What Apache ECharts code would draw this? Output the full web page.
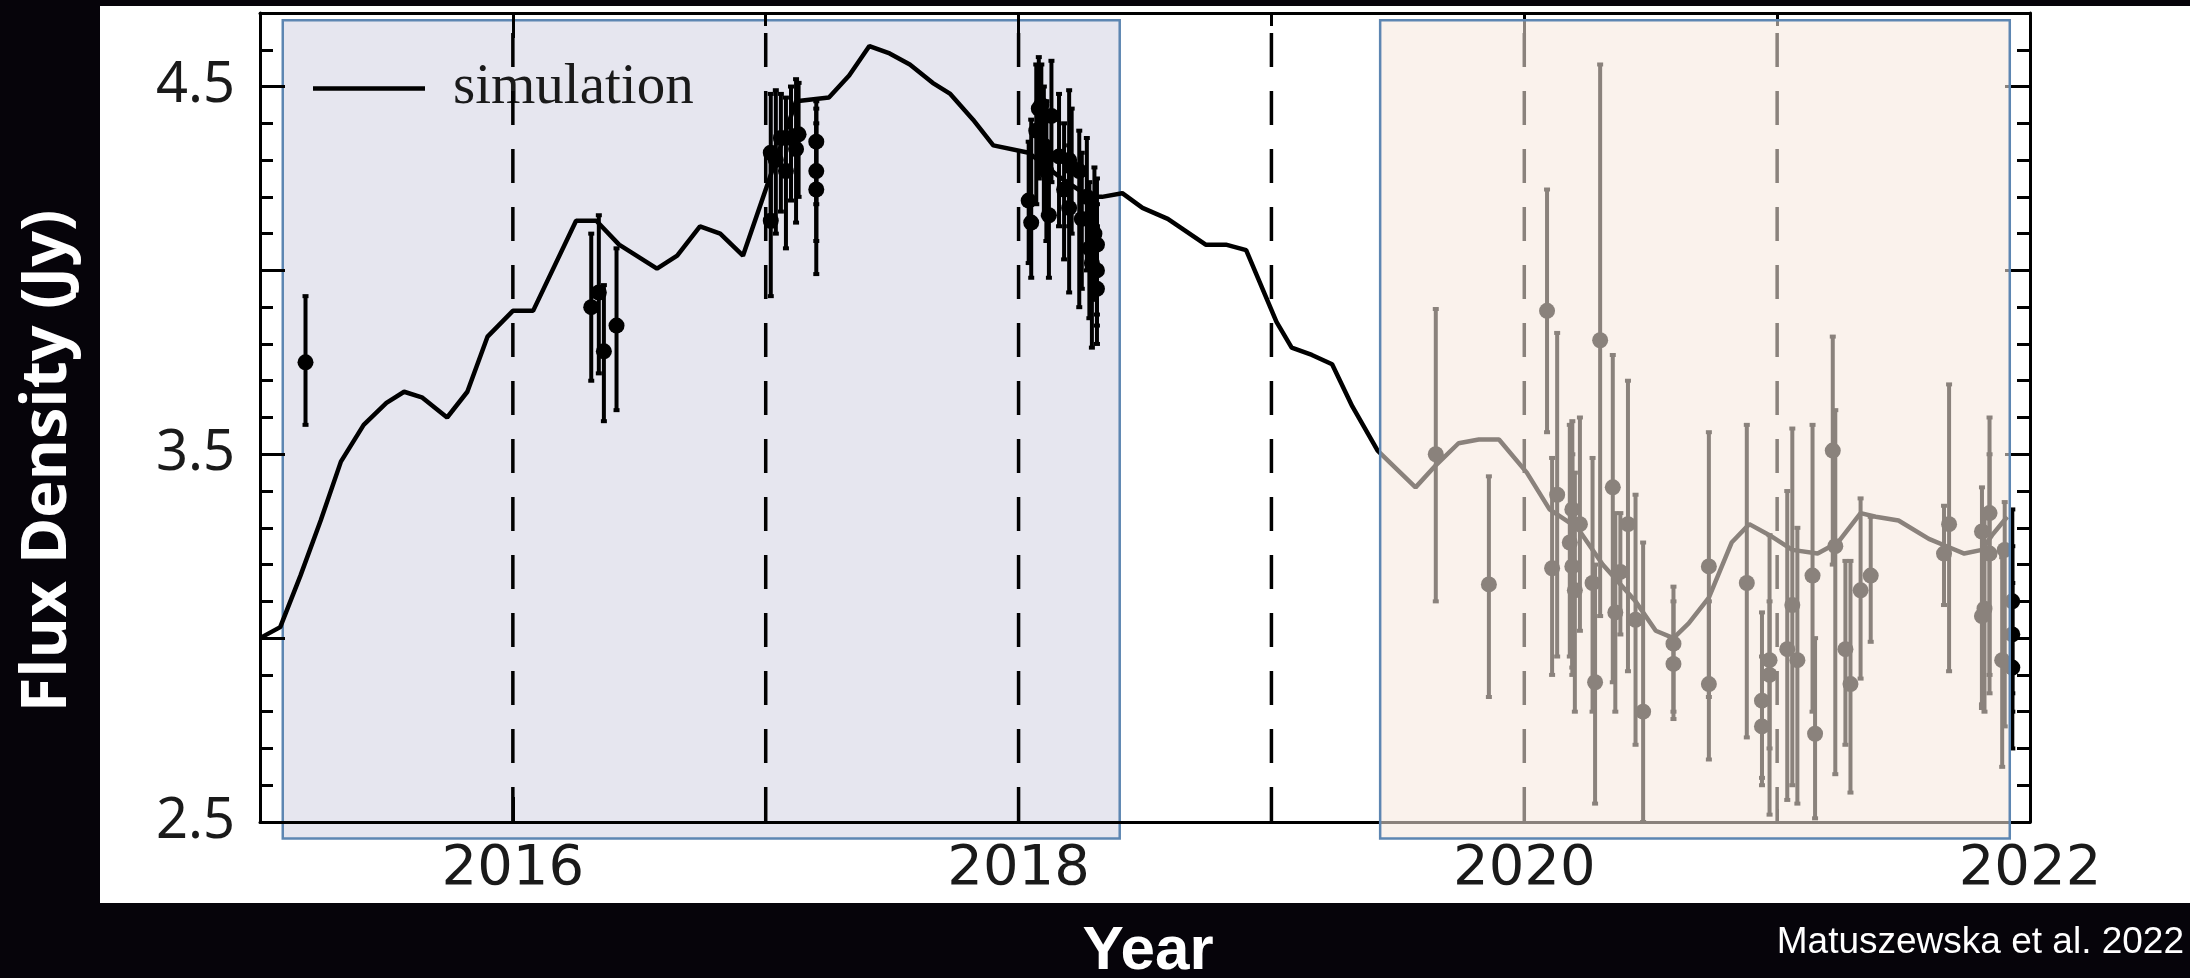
<!DOCTYPE html>
<html>
<head>
<meta charset="utf-8">
<title>Flux density light curve</title>
<script src="https://cdn.jsdelivr.net/npm/echarts@6/dist/echarts.min.js"></script>
<style>
  html, body { margin: 0; padding: 0; background: #06040a; }
  #chart { width: 2190px; height: 978px; }
</style>
</head>
<body>
<div id="chart"></div>
<script>
// Axis ranges and tick positions
const YEAR_RANGE = [2015, 2022];
const FLUX_RANGE = [2.5, 4.7];
const YEAR_TICKS_MAJOR = [2016, 2018, 2020, 2022];
const YEAR_TICKS_MINOR = [2017, 2019, 2021];
const YEAR_LABELS = [2016, 2018, 2020, 2022];
const FLUX_TICKS_MAJOR = [2.5, 3.0, 3.5, 4.0, 4.5];
const FLUX_TICKS_MINOR = [2.6, 2.7, 2.8, 2.9, 3.1, 3.2, 3.3, 3.4, 3.6, 3.7, 3.8, 3.9, 4.1, 4.2, 4.3, 4.4, 4.6];
const FLUX_LABELS = [2.5, 3.5, 4.5];

// Yearly reference epochs (dashed verticals)
const EPOCHS = [2016, 2017, 2018, 2019, 2020, 2021];

// Observing campaigns: [start year, end year, flux low, flux high]
const CAMPAIGN_EARLY = [2015.09, 2018.40, 2.455, 4.68];
const CAMPAIGN_LATE = [2019.43, 2021.92, 2.455, 4.68];

// Simulated light curve: [year, flux density (Jy)]
const SIMULATION = [
  [2015.00, 3.00], [2015.08, 3.03], [2015.16, 3.17], [2015.24, 3.32], [2015.32, 3.48],
  [2015.41, 3.58], [2015.50, 3.64], [2015.57, 3.67], [2015.64, 3.655], [2015.74, 3.60],
  [2015.82, 3.67], [2015.90, 3.82], [2016.00, 3.89], [2016.08, 3.89], [2016.25, 4.135],
  [2016.33, 4.135], [2016.42, 4.07], [2016.57, 4.005], [2016.65, 4.04], [2016.74, 4.12],
  [2016.82, 4.10], [2016.91, 4.04], [2017.12, 4.46], [2017.25, 4.47], [2017.33, 4.53],
  [2017.41, 4.61], [2017.49, 4.59], [2017.57, 4.56], [2017.66, 4.51], [2017.73, 4.48],
  [2017.82, 4.41], [2017.90, 4.34], [2018.04, 4.32], [2018.17, 4.25], [2018.28, 4.20],
  [2018.33, 4.20], [2018.41, 4.21], [2018.49, 4.17], [2018.59, 4.14], [2018.74, 4.07],
  [2018.82, 4.07], [2018.90, 4.055], [2019.02, 3.86], [2019.08, 3.79], [2019.16, 3.77],
  [2019.24, 3.745], [2019.32, 3.63], [2019.42, 3.51], [2019.57, 3.41], [2019.65, 3.47],
  [2019.74, 3.53], [2019.82, 3.54], [2019.90, 3.54], [2020.01, 3.45], [2020.10, 3.35],
  [2020.21, 3.30], [2020.31, 3.20], [2020.44, 3.10], [2020.52, 3.02], [2020.59, 3.00],
  [2020.65, 3.04], [2020.73, 3.11], [2020.82, 3.26], [2020.89, 3.31], [2020.97, 3.28],
  [2021.06, 3.24], [2021.16, 3.23], [2021.24, 3.26], [2021.33, 3.34], [2021.39, 3.33],
  [2021.48, 3.32], [2021.60, 3.27], [2021.67, 3.25], [2021.74, 3.23], [2021.81, 3.24],
  [2021.85, 3.28], [2021.91, 3.33]
];

// Measurements: [year, flux, lower bound, upper bound]
const OBS_2015_2016 = [
  [2015.18, 3.75, 3.58, 3.93],
  [2016.31, 3.90, 3.70, 4.10],
  [2016.34, 3.94, 3.72, 4.15],
  [2016.36, 3.78, 3.59, 3.96],
  [2016.41, 3.85, 3.62, 4.06]
];
const OBS_2017 = [
  [2017.02, 4.32, 4.12, 4.48], [2017.02, 4.135, 3.93, 4.33], [2017.04, 4.30, 4.10, 4.49],
  [2017.06, 4.36, 4.16, 4.48], [2017.08, 4.27, 4.06, 4.47], [2017.10, 4.36, 4.19, 4.50],
  [2017.12, 4.33, 4.13, 4.52], [2017.13, 4.37, 4.20, 4.51], [2017.20, 4.35, 4.18, 4.46],
  [2017.20, 4.27, 4.08, 4.44], [2017.20, 4.22, 3.99, 4.40]
];
const OBS_2018 = [
  [2018.04, 4.19, 4.02, 4.35], [2018.05, 4.13, 3.98, 4.41], [2018.07, 4.38, 4.18, 4.56],
  [2018.08, 4.44, 4.25, 4.58], [2018.09, 4.45, 4.28, 4.56], [2018.10, 4.34, 4.15, 4.50],
  [2018.11, 4.27, 4.08, 4.46], [2018.12, 4.15, 3.98, 4.33], [2018.13, 4.42, 4.24, 4.57],
  [2018.16, 4.31, 4.12, 4.48], [2018.18, 4.22, 4.03, 4.40], [2018.20, 4.17, 3.94, 4.34],
  [2018.20, 4.30, 4.12, 4.49], [2018.21, 4.28, 4.10, 4.44], [2018.24, 4.27, 3.90, 4.38],
  [2018.25, 4.14, 3.95, 4.32], [2018.27, 4.20, 4.00, 4.36], [2018.28, 4.06, 3.87, 4.24],
  [2018.29, 4.02, 3.79, 4.20], [2018.30, 4.10, 3.92, 4.28], [2018.31, 4.07, 3.88, 4.25],
  [2018.31, 4.00, 3.85, 4.18], [2018.31, 3.95, 3.80, 4.12]
];
const OBS_2019_2021 = [
  [2019.65, 3.50, 3.10, 3.895], [2019.86, 3.146, 2.84, 3.44], [2020.09, 3.89, 3.56, 4.22],
  [2020.11, 3.19, 2.90, 3.49], [2020.13, 3.39, 2.95, 3.83], [2020.18, 3.26, 2.95, 3.58],
  [2020.19, 3.35, 2.92, 3.59], [2020.19, 3.195, 2.90, 3.50], [2020.20, 3.13, 2.80, 3.45],
  [2020.22, 3.31, 3.02, 3.60], [2020.27, 3.15, 2.80, 3.49], [2020.28, 2.88, 2.55, 3.20],
  [2020.30, 3.81, 3.06, 4.56], [2020.35, 3.41, 2.88, 3.77], [2020.36, 3.07, 2.80, 3.34],
  [2020.38, 3.18, 3.01, 3.34], [2020.41, 3.31, 2.91, 3.70], [2020.44, 3.05, 2.71, 3.39],
  [2020.47, 2.80, 2.50, 3.26], [2020.59, 2.985, 2.80, 3.14], [2020.59, 2.93, 2.78, 3.10],
  [2020.73, 3.195, 2.84, 3.56], [2020.73, 2.875, 2.67, 3.10], [2020.88, 3.15, 2.73, 3.58],
  [2020.94, 2.83, 2.60, 3.07], [2020.94, 2.76, 2.62, 2.95], [2020.97, 2.94, 2.52, 3.28],
  [2020.97, 2.90, 2.70, 3.10], [2021.04, 2.97, 2.56, 3.40], [2021.06, 3.09, 2.60, 3.57],
  [2021.08, 2.94, 2.55, 3.30], [2021.14, 3.17, 2.80, 3.58], [2021.15, 2.74, 2.51, 3.00],
  [2021.22, 3.51, 3.20, 3.82], [2021.23, 3.25, 2.63, 3.62], [2021.27, 2.97, 2.71, 3.21],
  [2021.29, 2.875, 2.58, 3.21], [2021.33, 3.13, 2.89, 3.38], [2021.37, 3.17, 2.99, 3.33],
  [2021.66, 3.23, 3.09, 3.36], [2021.68, 3.31, 2.91, 3.69], [2021.81, 3.29, 2.81, 3.41],
  [2021.84, 3.34, 2.85, 3.60], [2021.84, 3.23, 2.90, 3.50], [2021.82, 3.08, 2.80, 3.35],
  [2021.81, 3.06, 2.82, 3.30], [2021.89, 2.94, 2.65, 3.22], [2021.90, 3.24, 2.76, 3.37],
  [2021.93, 3.10, 2.85, 3.35], [2021.93, 3.01, 2.80, 3.25], [2021.93, 2.92, 2.70, 3.15]
];

const OBSERVATIONS = [].concat(OBS_2015_2016, OBS_2017, OBS_2018, OBS_2019_2021);

const INK = '#000000';
const TICK_INK = '#1a1a1a';
const FRAME_BLUE = '#5d86b2';

function campaignBox(fill, z, name) {
  return {
    name: name,
    type: 'custom',
    z: z,
    clip: false,
    silent: true,
    xAxisIndex: 0,
    yAxisIndex: 0,
    data: [name === 'early' ? CAMPAIGN_EARLY : CAMPAIGN_LATE],
    encode: { x: [0, 1], y: [2, 3] },
    renderItem: function (params, api) {
      const tl = api.coord([api.value(0), api.value(3)]);
      const br = api.coord([api.value(1), api.value(2)]);
      return {
        type: 'rect',
        shape: { x: tl[0], y: tl[1], width: br[0] - tl[0], height: br[1] - tl[1] },
        style: { fill: fill, stroke: FRAME_BLUE, lineWidth: 2.5 }
      };
    }
  };
}

function frameAxisX(position, ticks, len, withLine, withLabels) {
  return {
    type: 'value',
    position: position,
    min: YEAR_RANGE[0],
    max: YEAR_RANGE[1],
    z: 3,
    axisLine: { show: withLine, onZero: false, lineStyle: { color: INK, width: 3 } },
    axisTick: { show: true, inside: true, length: len, customValues: ticks, lineStyle: { color: INK, width: 3 } },
    axisLabel: withLabels ? {
      show: true,
      customValues: YEAR_LABELS,
      margin: 19,
      color: TICK_INK,
      fontFamily: 'DejaVu Sans',
      fontSize: 56,
      formatter: function (v) { return String(Math.round(v)); }
    } : { show: false },
    splitLine: { show: false }
  };
}

function frameAxisY(position, ticks, len, withLine, withLabels) {
  return {
    type: 'value',
    position: position,
    min: FLUX_RANGE[0],
    max: FLUX_RANGE[1],
    z: 3,
    axisLine: { show: withLine, onZero: false, lineStyle: { color: INK, width: 3 } },
    axisTick: { show: true, inside: true, length: len, customValues: ticks, lineStyle: { color: INK, width: 3 } },
    axisLabel: withLabels ? {
      show: true,
      customValues: FLUX_LABELS,
      margin: 25,
      color: TICK_INK,
      fontFamily: 'Noto Sans',
      fontSize: 56,
      formatter: function (v) { return v.toFixed(1); }
    } : { show: false },
    splitLine: { show: false }
  };
}

const chart = echarts.init(document.getElementById('chart'), null, { renderer: 'canvas' });

chart.setOption({
  backgroundColor: '#ffffff',
  animation: false,
  grid: { left: 260, right: 160, top: 13, bottom: 156, containLabel: false },
  xAxis: [
    frameAxisX('bottom', YEAR_TICKS_MAJOR, 25, true, true),
    frameAxisX('bottom', YEAR_TICKS_MINOR, 13, false, false),
    frameAxisX('top', YEAR_TICKS_MAJOR, 25, true, false),
    frameAxisX('top', YEAR_TICKS_MINOR, 13, false, false)
  ],
  yAxis: [
    frameAxisY('left', FLUX_TICKS_MAJOR, 25, true, true),
    frameAxisY('left', FLUX_TICKS_MINOR, 13, false, false),
    frameAxisY('right', FLUX_TICKS_MAJOR, 25, true, false),
    frameAxisY('right', FLUX_TICKS_MINOR, 13, false, false)
  ],
  legend: {
    data: [{ name: 'simulation', icon: 'rect', itemStyle: { color: INK } }],
    left: 313,
    top: 60,
    padding: 0,
    itemWidth: 112,
    itemHeight: 4.5,
    selectedMode: false,
    textStyle: {
      fontFamily: 'Liberation Serif',
      fontSize: 57,
      color: '#1a1a1a',
      padding: [0, 0, 6, 23]
    }
  },
  graphic: {
    elements: [
      { type: 'rect', z: 100, silent: true, shape: { x: 0, y: 0, width: 100, height: 978 }, style: { fill: '#06040a' } },
      { type: 'rect', z: 100, silent: true, shape: { x: 0, y: 0, width: 2190, height: 6 }, style: { fill: '#06040a' } },
      { type: 'rect', z: 100, silent: true, shape: { x: 0, y: 903, width: 2190, height: 75 }, style: { fill: '#06040a' } },
      {
        type: 'text', z: 101, silent: true,
        x: 48, y: 461, rotation: Math.PI / 2,
        style: {
          text: 'Flux Density (Jy)', fill: '#ffffff',
          font: 'bold 63px "Open Sans"', align: 'center', verticalAlign: 'middle'
        }
      },
      {
        type: 'text', z: 101, silent: true,
        x: 1148, y: 952,
        style: {
          text: 'Year', fill: '#ffffff',
          font: 'bold 62px "Liberation Sans"', align: 'center', verticalAlign: 'middle'
        }
      },
      {
        type: 'text', z: 101, silent: true,
        x: 2184, y: 943,
        style: {
          text: 'Matuszewska et al. 2022', fill: '#ffffff',
          font: '37px "Liberation Sans"', align: 'right', verticalAlign: 'middle'
        }
      }
    ]
  },
  series: [
    campaignBox('#e6e6ef', 1, 'early'),
    {
      name: 'epochs',
      type: 'custom',
      z: 4,
      silent: true,
      xAxisIndex: 0,
      yAxisIndex: 0,
      data: EPOCHS.map(function (y) { return [y]; }),
      encode: { x: 0 },
      renderItem: function (params, api) {
        const x = api.value(0);
        const top = api.coord([x, FLUX_RANGE[1]]);
        const bottom = api.coord([x, FLUX_RANGE[0]]);
        return {
          type: 'line',
          shape: { x1: top[0], y1: top[1], x2: bottom[0], y2: bottom[1] },
          style: { stroke: INK, lineWidth: 3.5, lineDash: [34, 24], lineDashOffset: 38 }
        };
      }
    },
    {
      name: 'simulation',
      type: 'line',
      z: 5,
      xAxisIndex: 0,
      yAxisIndex: 0,
      data: SIMULATION,
      symbol: 'none',
      showSymbol: false,
      lineStyle: { color: INK, width: 4.5 },
      itemStyle: { color: INK }
    },
    {
      name: 'error bars',
      type: 'custom',
      z: 6,
      silent: true,
      xAxisIndex: 0,
      yAxisIndex: 0,
      data: OBSERVATIONS.map(function (d) { return [d[0], d[2], d[3]]; }),
      encode: { x: 0, y: [1, 2] },
      renderItem: function (params, api) {
        const x = api.value(0);
        const lo = api.coord([x, api.value(1)]);
        const hi = api.coord([x, api.value(2)]);
        const cap = 3;
        const st = { stroke: INK, lineWidth: 4 };
        return {
          type: 'group',
          children: [
            { type: 'line', shape: { x1: lo[0], y1: lo[1], x2: hi[0], y2: hi[1] }, style: st },
            { type: 'line', shape: { x1: lo[0] - cap, y1: lo[1], x2: lo[0] + cap, y2: lo[1] }, style: st },
            { type: 'line', shape: { x1: hi[0] - cap, y1: hi[1], x2: hi[0] + cap, y2: hi[1] }, style: st }
          ]
        };
      }
    },
    {
      name: 'measured',
      type: 'scatter',
      z: 7,
      xAxisIndex: 0,
      yAxisIndex: 0,
      data: OBSERVATIONS.map(function (d) { return [d[0], d[1]]; }),
      symbol: 'circle',
      symbolSize: 16,
      itemStyle: { color: INK, opacity: 1 }
    },
    campaignBox('rgba(246, 232, 222, 0.56)', 10, 'late')
  ]
});
</script>
</body>
</html>
